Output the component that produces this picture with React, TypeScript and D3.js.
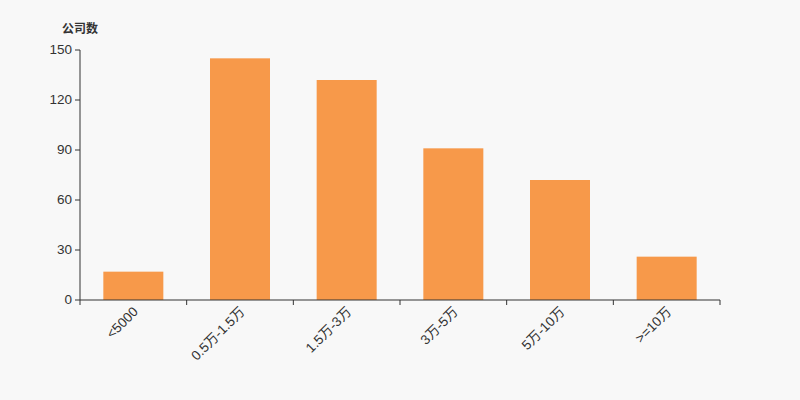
import { useMemo } from 'react';
import * as d3 from 'd3';

const categories = ['<5000', '0.5万-1.5万', '1.5万-3万', '3万-5万', '5万-10万', '>=10万'];
const counts = [17, 145, 132, 91, 72, 26];
const yTicks = [0, 30, 60, 90, 120, 150];
const yTitle = '公司数';

const WIDTH = 800;
const HEIGHT = 400;
const margin = { top: 50, right: 80, bottom: 100, left: 80 };
const BAR_W = 60;
const FONT = '"Liberation Sans", "Noto Sans CJK SC", sans-serif';
const AXIS = '#333333';
const TEXT = '#333333';
const BAR = '#f7994a';

export default function App() {
  const innerW = WIDTH - margin.left - margin.right;
  const innerH = HEIGHT - margin.top - margin.bottom;

  const { x, y } = useMemo(() => {
    const x = d3.scaleBand().domain(categories).range([0, innerW]);
    const y = d3.scaleLinear().domain([0, 150]).range([innerH, 0]);
    return { x, y };
  }, [innerW, innerH]);

  // band boundaries for category ticks
  const boundaries = [...categories.map((c) => x(c) ?? 0), innerW];

  return (
    <svg
      width={WIDTH}
      height={HEIGHT}
      style={{ position: 'fixed', left: 0, top: 0, background: '#f8f8f8' }}
      fontFamily={FONT}
    >
      <rect width={WIDTH} height={HEIGHT} fill='#f8f8f8' />
      <g transform={`translate(${margin.left},${margin.top})`}>
        {/* Bars */}
        {categories.map((c, i) => (
          <rect
            key={c}
            x={(x(c) ?? 0) + x.bandwidth() / 2 - BAR_W / 2}
            y={y(counts[i])}
            width={BAR_W}
            height={innerH - y(counts[i])}
            fill={BAR}
          />
        ))}

        {/* Y axis */}
        <line x1={0} x2={0} y1={0} y2={innerH} stroke={AXIS} strokeWidth={1} />
        {yTicks.map((t) => (
          <g key={t} transform={`translate(0,${y(t)})`}>
            <line x1={-5} x2={0} stroke={AXIS} strokeWidth={1} />
            <text
              x={-8}
              dominantBaseline='middle'
              textAnchor='end'
              fontSize={13.5}
              fill={TEXT}
            >
              {t}
            </text>
          </g>
        ))}
        <text
          x={-18}
          y={-17}
          fontSize={12}
          fontWeight='bold'
          fill={TEXT}
          fontFamily='"Noto Sans CJK SC", sans-serif'
        >
          {yTitle}
        </text>

        {/* X axis */}
        <line x1={0} x2={innerW} y1={innerH} y2={innerH} stroke={AXIS} strokeWidth={1} />
        {boundaries.map((b, i) => (
          <line key={i} x1={b} x2={b} y1={innerH} y2={innerH + 5} stroke={AXIS} strokeWidth={1} />
        ))}
        {categories.map((c) => {
          const cx = (x(c) ?? 0) + x.bandwidth() / 2;
          return (
            <text
              key={c}
              transform={`translate(${cx + 3},${innerH + 10}) rotate(-45)`}
              textAnchor='end'
              dominantBaseline='middle'
              fontSize={13.5}
              fill={TEXT}
            >
              {c}
            </text>
          );
        })}
      </g>
    </svg>
  );
}
